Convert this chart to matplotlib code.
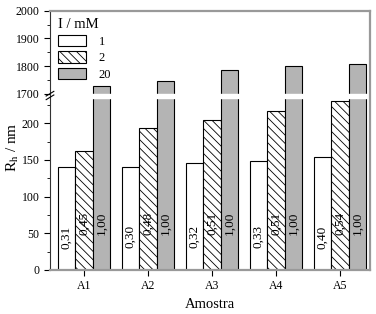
import numpy as np
import matplotlib
matplotlib.use("Agg")
import matplotlib.pyplot as plt
from matplotlib.patches import Patch

plt.rcParams['font.family'] = ['Liberation Serif', 'DejaVu Serif']
plt.rcParams['mathtext.fontset'] = 'stix'
plt.rcParams['hatch.linewidth'] = 0.6

# --- data ---
samples = ["A1", "A2", "A3", "A4", "A5"]
ionic = ["1", "2", "20"]
rh_1 = [140, 140, 145.5, 148, 153.5]
rh_2 = [162, 194, 204.5, 216.5, 230.5]
rh_20 = [1727, 1747, 1785, 1800, 1808]
lab_1 = ["0,31", "0,30", "0,32", "0,33", "0,40"]
lab_2 = ["0,45", "0,48", "0,51", "0,51", "0,54"]
lab_20 = ["1,00", "1,00", "1,00", "1,00", "1,00"]

# broken y axis: 0-234 and 1700-2000 on one axes
yk = [0, 234, 1700, 2000]
pk = [0, 171.6, 176, 259.4]
fwd = lambda y: np.interp(y, yk, pk)
inv = lambda p: np.interp(p, pk, yk)

fig = plt.figure(figsize=(3.76, 3.14), dpi=100)
ax = fig.add_axes([50/376, 44/314, 320/376, 259.4/314])
ax.set_yscale('function', functions=(fwd, inv))

x = np.arange(len(samples))
w = 0.27
ax.bar(x - w, rh_1, w, color='white', edgecolor='black', linewidth=0.8, label=ionic[0])
ax.bar(x, rh_2, w, color='white', edgecolor='black', linewidth=0.8, hatch='\\\\\\\\', label=ionic[1])
ax.bar(x + w, rh_20, w, color='#b4b4b4', edgecolor='black', linewidth=0.8, label=ionic[2])

for i in range(len(samples)):
    ax.text(x[i] - w, 61, lab_1[i], rotation=90, ha='center', va='top', fontsize=9.5)
    ax.text(x[i], 79, lab_2[i], rotation=90, ha='center', va='top', fontsize=9.5)
    ax.text(x[i] + w, 79, lab_20[i], rotation=90, ha='center', va='top', fontsize=9.5)

# gap through the bars
ax.axhspan(234, 1700, color='white', zorder=3)

ax.set_xlim(-0.53, 4.47)
ax.set_ylim(0, 2000)
ax.set_xticks(x)
ax.set_xticklabels(samples)
ax.set_yticks([0, 50, 100, 150, 200, 1700, 1800, 1900, 2000])
ax.set_yticks([25, 75, 125, 175, 225, 1750, 1850, 1950], minor=True)
ax.set_yticklabels(["0", "50", "100", "150", "200", "1700", "1800", "1900", "2000"])
ax.tick_params(axis='both', labelsize=8.5, direction='out', length=4, width=0.8)
ax.tick_params(axis='y', which='minor', length=2, width=0.6)
ax.tick_params(axis='x', which='minor', bottom=False)

for s in ['top', 'right', 'bottom']:
    ax.spines[s].set_color('#999999')
    ax.spines[s].set_linewidth(1.6)
ax.spines['left'].set_color('#333333')
ax.spines['left'].set_linewidth(0.8)
for s in ax.spines.values():
    s.set_zorder(4)

# break marks on the left axis
yb = (270 - 95.5) / 259.4
for dy in (0.007, -0.007):
    ax.plot([-0.012, 0.012], [yb + dy - 0.009, yb + dy + 0.009], transform=ax.transAxes,
            color='black', lw=0.8, clip_on=False, zorder=5)

ax.set_xlabel("Amostra", fontsize=10.5, labelpad=4)
ax.set_ylabel(r"R$_\mathrm{h}$ / nm", fontsize=11)
ax.yaxis.set_label_coords(-0.09, 0.474)

handles = [Patch(facecolor='white', edgecolor='black', linewidth=0.8),
           Patch(facecolor='white', edgecolor='black', linewidth=0.8, hatch='\\\\\\\\'),
           Patch(facecolor='#b4b4b4', edgecolor='black', linewidth=0.8)]
leg = ax.legend(handles, ionic, title="I / mM", loc='upper left', frameon=False,
                fontsize=9, title_fontsize=10.5, handlelength=2.3, handleheight=1.0,
                borderaxespad=0.2, labelspacing=0.3, handletextpad=1.0)
leg._legend_box.align = 'left'
leg.set_zorder(6)

fig.savefig("out.png", dpi=100)
